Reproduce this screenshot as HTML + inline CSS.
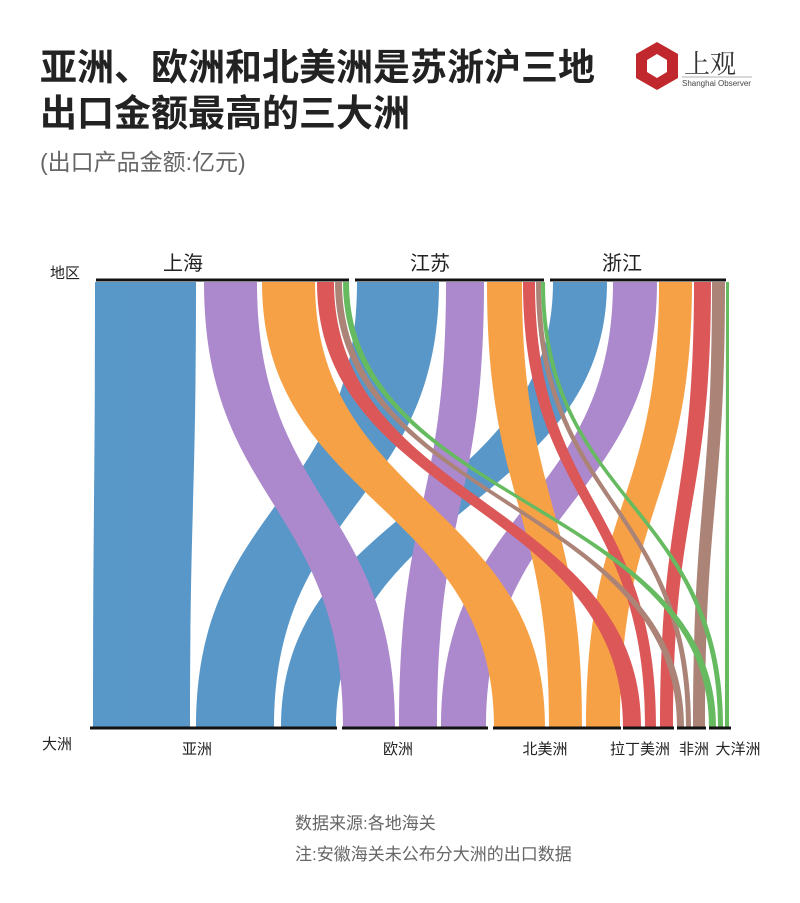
<!DOCTYPE html>
<html><head><meta charset="utf-8"><style>
body{margin:0;background:#fff;width:800px;height:898px;overflow:hidden;font-family:"Liberation Sans","Noto Sans CJK SC",sans-serif;}
</style></head><body>
<svg width="800" height="898" viewBox="0 0 800 898" xmlns="http://www.w3.org/2000/svg" font-family="Liberation Sans, Noto Sans CJK SC, sans-serif">
<text x="40" y="80" font-size="37" font-weight="bold" fill="#222">亚洲、欧洲和北美洲是苏浙沪三地</text>
<text x="40" y="126" font-size="37" font-weight="bold" fill="#222">出口金额最高的三大洲</text>
<text x="40" y="170" font-size="23" fill="#666">(出口产品金额:亿元)</text>
<g transform="translate(657,66)">
<polygon points="0,-24 21,-12 21,12 0,24 -21,12 -21,-12" fill="#c0282d"/>
<polygon points="0,-12 10,-6 10,6 0,12 -10,6 -10,-6" fill="#fff"/>
</g>
<text x="684" y="73" font-size="26" fill="#333" font-family="Noto Serif CJK SC, serif">上观</text>
<line x1="682" y1="77" x2="752" y2="77" stroke="#999" stroke-width="0.8"/>
<text x="682" y="86" font-size="8" fill="#444">Shanghai Observer</text>
<g id="r" opacity="0.92"></g>
<g font-size="20" fill="#222" text-anchor="middle">
<text x="183" y="270">上海</text><text x="430" y="270">江苏</text><text x="622" y="270">浙江</text>
</g>
<text x="50" y="278" font-size="15" fill="#222">地区</text>
<text x="42" y="749" font-size="15" fill="#222">大洲</text>
<g stroke="#111" stroke-width="3">
<line x1="96" y1="280" x2="349" y2="280"/><line x1="355" y1="280" x2="544" y2="280"/><line x1="550" y1="280" x2="726" y2="280"/>
<line x1="90" y1="728" x2="337" y2="728"/><line x1="342" y1="728" x2="488" y2="728"/><line x1="493" y1="728" x2="621" y2="728"/><line x1="623" y1="728" x2="674" y2="728"/><line x1="677" y1="728" x2="706" y2="728"/><line x1="709" y1="728" x2="731" y2="728"/>
</g>
<g font-size="15" fill="#222" text-anchor="middle">
<text x="197" y="754">亚洲</text><text x="398" y="754">欧洲</text><text x="545" y="754">北美洲</text><text x="640" y="754">拉丁美洲</text><text x="694" y="754">非洲</text><text x="738" y="754">大洋洲</text>
</g>
<text x="295" y="829" font-size="17" fill="#666">数据来源:各地海关</text>
<text x="295" y="860" font-size="17" fill="#666">注:安徽海关未公布分大洲的出口数据</text>
</svg>
<script>
var C={b:"#4a8fc4",p:"#a57fc8",o:"#f79a38",r:"#d9494a",w:"#a47a6c",g:"#5ab552"};
var d=[
["b",95,196,93,190],["b",357,439,196,274],["b",553,607,281,336],
["p",204,257,343,395],["p",446,484,399,437],["p",613,657,441,486],
["o",262,315,494,545],["o",487,522,549,582],["o",659,692,586,620],
["r",317,334,623,641],["r",523,535,645,656],["r",694,711,660,673],
["w",335,342,677,684],["w",536,541,686,691],["w",712,725,693,705],
["g",343,349,709,716],["g",541,545,718,723],["g",726,729,725,729]];
var g=document.getElementById("r"),s="";
var y0=282,y1=727,m=504;
d.forEach(function(a){s+='<path fill="'+C[a[0]]+'" d="M'+a[1]+','+y0+' C'+a[1]+','+m+' '+a[3]+','+m+' '+a[3]+','+y1+' L'+a[4]+','+y1+' C'+a[4]+','+m+' '+a[2]+','+m+' '+a[2]+','+y0+' Z"/>';});
g.innerHTML=s;
</script>
</body></html>
